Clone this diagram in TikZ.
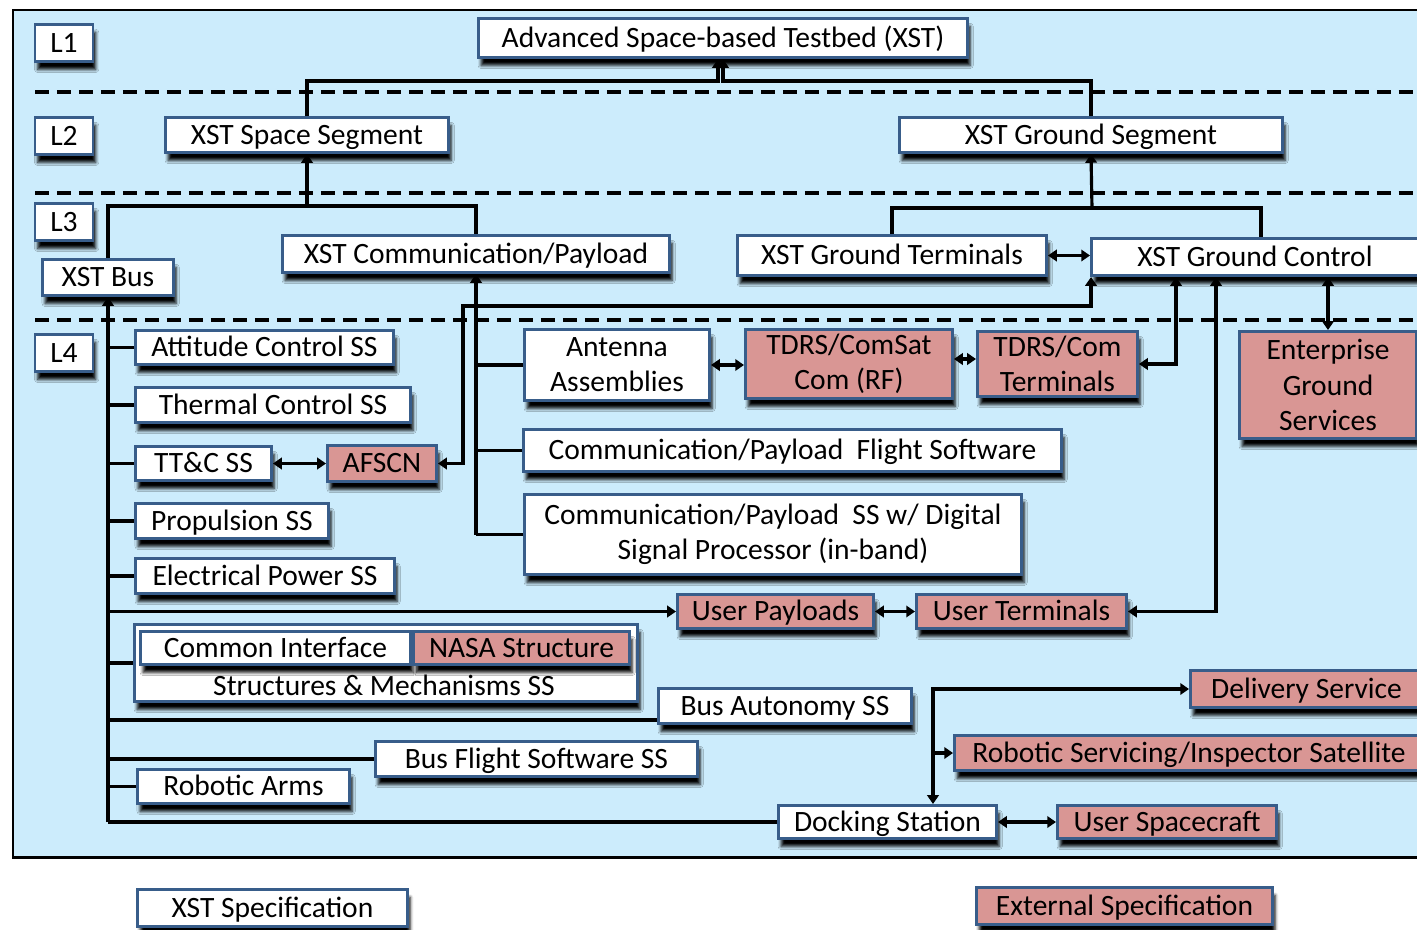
\documentclass[tikz,border=0pt]{standalone}
\usepackage{fontspec}
\setmainfont{Carlito}
\usetikzlibrary{arrows.meta,shadows.blur}
\definecolor{bgblue}{RGB}{204,236,252}
\definecolor{boxblue}{RGB}{56,93,138}
\definecolor{extpink}{RGB}{217,150,148}
\tikzset{
  sz/.style 2 args={minimum width=#1cm, minimum height=#2cm},
  box/.style={draw=boxblue, line width=1.7pt, fill=white, inner sep=0pt, align=center,
    font=\fontsize{16.8}{20}\selectfont, text height=10.6pt, text depth=0pt,
    blur shadow={shadow xshift=1.5pt, shadow yshift=-4.5pt, shadow blur radius=1.8pt, shadow opacity=100}},
  ext/.style={box, fill=extpink},
  multi/.style={text height={}, text depth={}},
  link/.style={line width=1.8pt},
  arr/.style={link, -{Triangle[length=5pt,width=6.5pt]}},
  dbl/.style={link, {Triangle[length=5pt,width=6.5pt]}-{Triangle[length=5pt,width=6.5pt]}},
  level/.style={line width=1.9pt, dash pattern=on 0.28cm off 0.16cm}
}
\begin{document}
\begin{tikzpicture}[x=0.02cm, y=-0.02cm]
   \useasboundingbox (0,0) rectangle (1417,930);
   \clip (0,0) rectangle (1417,930);
   \draw[line width=1.7pt, fill=bgblue] (13,10) rectangle (1440,857);
   \foreach \y in {92,193,320} \draw[level] (35,\y) -- (1420,\y);
   % levels
   \node[box, sz={1.16}{0.74}] (l1) at (64,43) {L1};
   \node[box, sz={1.16}{0.74}] (l2) at (64,136) {L2};
   \node[box, sz={1.16}{0.74}] (l3) at (64,222) {L3};
   \node[box, sz={1.16}{0.74}] (l4) at (64,353) {L4};
   % L1 - L3
   \node[box, sz={9.78}{0.78}] (title) at (723,38) {Advanced Space-based Testbed (XST)};
   \node[box, sz={5.66}{0.70}] (sseg) at (307,135) {XST Space Segment};
   \node[box, sz={7.66}{0.70}] (gseg) at (1091,135) {XST Ground Segment};
   \node[box, sz={2.62}{0.72}] (bus) at (108,277.5) {XST Bus};
   \node[box, sz={7.74}{0.74}] (comm) at (476,254) {XST Communication/Payload};
   \node[box, sz={6.18}{0.80}] (gterm) at (892,255.5) {XST Ground Terminals};
   \node[box, sz={6.54}{0.74}] (gctrl) at (1255,257) {XST Ground Control};
   % L4 bus side
   \node[box, sz={5.16}{0.68}] (att) at (264.5,347.5) {Attitude Control SS};
   \node[box, sz={5.50}{0.70}] (thm) at (273,405) {Thermal Control SS};
   \node[box, sz={2.72}{0.68}] (ttc) at (203.5,463.5) {TT\&C SS};
   \node[ext, sz={2.18}{0.72}] (afscn) at (382,463.5) {AFSCN};
   \node[box, sz={3.86}{0.70}] (prop) at (232,521) {Propulsion SS};
   \node[box, sz={5.18}{0.70}] (eps) at (265,576) {Electrical Power SS};
   \node[box, sz={10.06}{1.54}] (sm) at (386,663) {};
   \node[font=\fontsize{16.8}{20}\selectfont, text height=10.6pt, text depth=0pt] (smlbl) at (384,686) {Structures \& Mechanisms SS};
   \node[box, sz={5.40}{0.66}] (cif) at (275.5,648) {Common Interface};
   \node[ext, sz={4.32}{0.66}] (nasa) at (521.5,648) {NASA Structure};
   \node[box, sz={5.06}{0.70}] (bauto) at (785,706) {Bus Autonomy SS};
   \node[box, sz={6.44}{0.70}] (bfsw) at (536.5,759) {Bus Flight Software SS};
   \node[box, sz={4.24}{0.68}] (rarm) at (243.5,786.5) {Robotic Arms};
   \node[box, sz={4.36}{0.66}] (dock) at (887.5,822) {Docking Station};
   \node[ext, sz={4.38}{0.66}] (uscr) at (1167,822) {User Spacecraft};
   \node[ext, sz={4.64}{0.74}] (deliv) at (1306.5,689) {Delivery Service};
   \node[ext, sz={9.38}{0.70}] (rserv) at (1189,753) {Robotic Servicing/Inspector Satellite};
   % L4 payload / ground side
   \node[box, multi, sz={3.70}{1.42}] (ant) at (617,365) {Antenna\\Assemblies};
   \node[ext, multi, sz={4.14}{1.38}] (tdrs) at (849,364) {TDRS/ComSat\\Com (RF)};
   \node[ext, multi, sz={3.20}{1.30}] (tterm) at (1057.5,364) {TDRS/Com\\Terminals};
   \node[ext, multi, sz={3.54}{2.14}] (egs) at (1328,385) {Enterprise\\Ground\\Services};
   \node[box, sz={10.76}{0.84}] (cfsw) at (792.5,450.5) {Communication/Payload\ \ Flight Software};
   \node[box, multi, sz={9.94}{1.60}] (cdsp) at (773,534.5) {Communication/Payload\ \ SS w/ Digital\\Signal Processor (in-band)};
   \node[ext, sz={3.92}{0.68}] (upay) at (775.5,611.5) {User Payloads};
   \node[ext, sz={4.20}{0.68}] (uterm) at (1021.5,611.5) {User Terminals};
   % legend
   \node[box, sz={5.40}{0.74}] (xspec) at (272.5,908) {XST Specification};
   \node[ext, sz={5.92}{0.74}] (espec) at (1124.5,906) {External Specification};
   % junctions
   \coordinate (sj) at (307,206);
   \coordinate (gj) at (1092,208);
   \coordinate (bj) at (108,822);
   \coordinate (ak) at (463,306);
   \coordinate (dj) at ([xshift=0.91cm]dock.north);
   % L1 - L3 links
   \draw[arr] (sseg.north) -- ++(0,-35) -| ([xshift=-0.1cm]title.south);
   \draw[arr] (gseg.north) -- ++(0,-35) -| (title.south);
   \draw[link] (bus.north) |- (sj) -| (comm.north);
   \draw[arr] (sj) -- (sseg.south);
   \draw[link] (gterm.north) |- (gj) -| ([xshift=0.12cm]gctrl.north);
   \draw[arr] (gj) -- (gseg.south);
   \draw[dbl] (gterm.east) -- (gterm.east -| gctrl.west);
   % bus trunk
   \draw[arr] (bj) -- (bus.south);
   \draw[link] (dock.west) -- (bj);
   \draw[link] (att.west) -- (att.west -| bus.south);
   \draw[link] (thm.west) -- (thm.west -| bus.south);
   \draw[link] (ttc.west) -- (ttc.west -| bus.south);
   \draw[link] (prop.west) -- (prop.west -| bus.south);
   \draw[link] (eps.west) -- (eps.west -| bus.south);
   \draw[arr] (upay.west -| bus.south) -- (upay.west);
   \draw[link] (sm.west) -- (sm.west -| bus.south);
   \draw[link] ([yshift=-0.28cm]bauto.west) -- ([yshift=-0.28cm]bauto.west -| bus.south);
   \draw[link] (bfsw.west) -- (bfsw.west -| bus.south);
   \draw[link] (rarm.west) -- (rarm.west -| bus.south);
   % payload trunk
   \draw[arr] (cdsp.west -| comm.south) -- (comm.south);
   \draw[link] (ant.west) -- (ant.west -| comm.south);
   \draw[link] (cfsw.west) -- (cfsw.west -| comm.south);
   \draw[link] (cdsp.west) -- (cdsp.west -| comm.south);
   % ground links
   \draw[dbl] (ttc.east) -- (afscn.west);
   \draw[dbl] (afscn.east) -| (ak) -| ([xshift=-3.28cm]gctrl.south);
   \draw[dbl] (ant.east) -- (ant.east -| tdrs.west);
   \draw[dbl] ([yshift=0.1cm]tdrs.east) -- ([yshift=0.1cm]tdrs.east -| tterm.west);
   \draw[dbl] (tterm.east) -| ([xshift=-1.58cm]gctrl.south);
   \draw[dbl] (uterm.east) -| ([xshift=-0.78cm]gctrl.south);
   \draw[dbl] (egs.north) -- (egs.north |- gctrl.south);
   \draw[dbl] (upay.east) -- (uterm.west);
   % servicing links
   \draw[dbl] (dj) |- (deliv.west);
   \draw[arr] (rserv.west -| dj) -- (rserv.west);
   \draw[dbl] (dock.east) -- (uscr.west);
\end{tikzpicture}
\end{document}
